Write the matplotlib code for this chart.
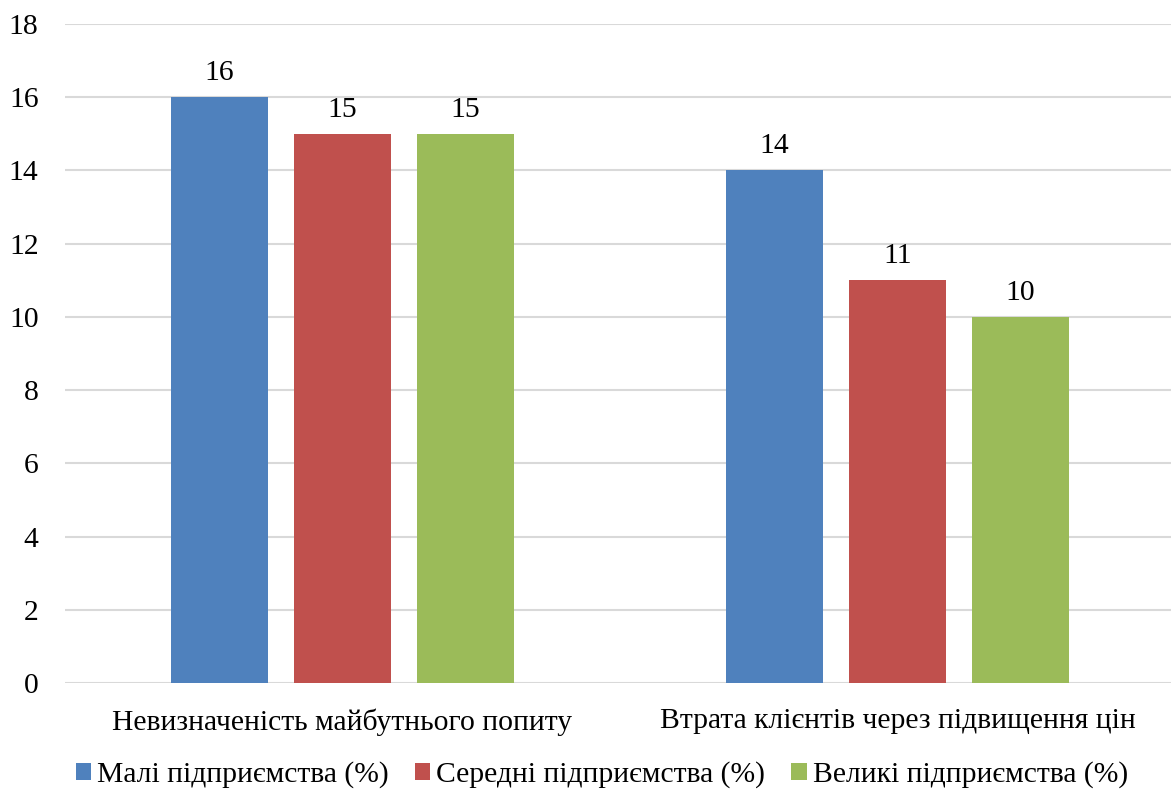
import matplotlib
matplotlib.use("Agg")
import matplotlib.pyplot as plt
import numpy as np

plt.rcParams['font.family'] = ['Liberation Serif', 'DejaVu Serif']

categories = ["Невизначеність майбутнього попиту", "Втрата клієнтів через підвищення цін"]
series_names = ["Малі підприємства (%)", "Середні підприємства (%)", "Великі підприємства (%)"]
small = [16, 14]
medium = [15, 11]
large = [15, 10]
colors = ["#4F81BD", "#C0504D", "#9BBB59"]
yticks = [0, 2, 4, 6, 8, 10, 12, 14, 16, 18]

FS = 21.3

fig = plt.figure(figsize=(11.71, 7.92), dpi=100)
ax = fig.add_axes([0.0555, 0.1376, 0.9445, 0.8321])

x = np.arange(len(categories))
width = 0.1748
step = 0.2216
for i, (vals, name, c) in enumerate(zip([small, medium, large], series_names, colors)):
    bars = ax.bar(x + (i - 1) * step, vals, width, color=c, label=name, zorder=3)
    for b, v in zip(bars, vals):
        ax.annotate(f"{v}", (b.get_x() + b.get_width() / 2, v), xytext=(0, 8),
                    textcoords="offset points", ha="center", va="bottom", fontsize=FS)

ax.set_xlim(-0.5, 1.493)
ax.set_ylim(0, 18)
ax.set_yticks(yticks)
ax.set_xticks(x)
ax.set_xticklabels(categories, fontsize=FS)
ax.tick_params(axis='y', length=0, pad=19, labelsize=FS)
ax.tick_params(axis='x', length=0, pad=18)
ax.grid(axis='y', color="#d9d9d9", linewidth=1.5, zorder=0)
for s in ax.spines.values():
    s.set_visible(False)

fig.legend(loc="center", bbox_to_anchor=(0.514, 0.0215), ncol=3, frameon=False, fontsize=FS,
           handlelength=0.52, handleheight=0.52, handletextpad=0.2, columnspacing=0.88,
           borderpad=0, borderaxespad=0)

fig.savefig("out.png", dpi=100)
